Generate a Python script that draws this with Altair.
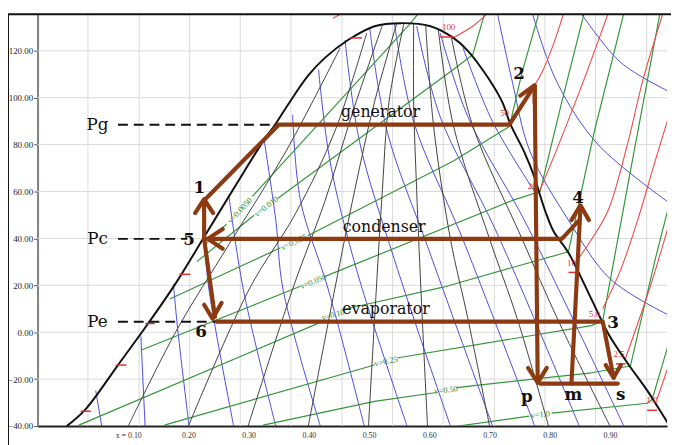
import altair as alt
import pandas as pd

# ---------------- axes ----------------
X_DOMAIN = [-0.0506, 0.9948]
Y_DOMAIN = [-40, 135.6]
Y_TICKS = [-40, -20, 0, 20, 40, 60, 80, 100, 120]
X_TICKS = [0.1, 0.2, 0.3, 0.4, 0.5, 0.6, 0.7, 0.8, 0.9]
GRID_X = [0.033, 0.118, 0.202, 0.286, 0.370, 0.455, 0.539, 0.623, 0.708, 0.792, 0.876, 0.961]

# ---------------- saturation dome ----------------
DOME = [(-0.002, -40), (0.029, -32.9), (0.083, -14.0), (0.133, 3.7), (0.178, 20.5),
        (0.226, 40.6), (0.280, 63.3), (0.324, 81.4), (0.345, 88.9), (0.365, 96.9),
        (0.399, 109.5), (0.427, 117.1), (0.465, 124.6), (0.509, 130.5), (0.553, 131.8),
        (0.602, 130.5), (0.640, 125.5), (0.664, 120.0), (0.697, 108.7), (0.721, 98.2),
        (0.735, 88.5), (0.757, 77.2), (0.775, 65.8), (0.784, 58.3), (0.795, 49.9),
        (0.807, 42.7), (0.831, 33.9), (0.869, 14.2), (0.897, -0.5), (0.929, -13.1),
        (0.962, -24.9), (0.995, -38.3), (1.008, -43.4)]

# ---------------- constant-concentration lines (thin black) ----------------
CONC_LINES = [
    [(0.100, -40), (0.182, 1.6), (0.267, 37.3), (0.362, 77.2), (0.452, 121.3)],
    [(0.200, -40), (0.301, 18.4), (0.378, 50.7), (0.443, 85.6), (0.496, 127.6)],
    [(0.299, -40), (0.373, 18.4), (0.427, 56.2), (0.473, 94.0), (0.522, 130.9)],
    [(0.399, -40), (0.443, 18.4), (0.476, 60.4), (0.509, 98.2), (0.546, 131.8)],
    [(0.499, -40), (0.512, 18.4), (0.522, 60.4), (0.533, 98.2), (0.558, 131.8)],
    [(0.597, -40), (0.586, 18.4), (0.579, 60.4), (0.574, 98.2), (0.574, 131.8)],
    [(0.700, -40), (0.664, 5.8), (0.635, 39.8), (0.607, 88.1), (0.594, 130.9)],
    [(0.798, -40), (0.746, 5.8), (0.700, 39.8), (0.640, 88.1), (0.615, 128.8)],
    [(0.900, -40), (0.815, 4.5), (0.754, 39.8), (0.672, 88.1), (0.636, 126.7)],
]

# ---------------- blue isolines ----------------
BLUE_LINES = [
    [(0.046, -24.9), (0.056, -40)],
    [(0.121, -1.8), (0.128, -40)],
    [(0.175, 20.5), (0.182, 1.6), (0.201, -40)],
    [(0.226, 39.4), (0.234, 18.4), (0.275, -40)],
    [(0.267, 58.3), (0.291, 18.4), (0.345, -40)],
    [(0.326, 81.4), (0.345, 47.8), (0.357, 18.4), (0.419, -40)],
    [(0.373, 92.7), (0.386, 56.2), (0.432, 18.4), (0.492, -40)],
    [(0.416, 112.0), (0.435, 73.0), (0.479, 26.8), (0.563, -40)],
    [(0.460, 124.6), (0.484, 81.4), (0.542, 31.0), (0.635, -40)],
    [(0.501, 129.7), (0.530, 85.6), (0.599, 35.2), (0.705, -40)],
    [(0.542, 131.8), (0.574, 89.8), (0.656, 39.4), (0.775, -40)],
    [(0.579, 130.5), (0.618, 91.9), (0.710, 43.6), (0.849, -40)],
    [(0.618, 127.6), (0.664, 91.9), (0.762, 45.7), (0.923, -40)],
    [(0.656, 121.3), (0.705, 89.8), (0.779, 58.3)],
    [(0.713, 136.0), (0.738, 106.6), (0.767, 77.2), (0.831, 47.8), (0.901, 22.6), (1.0, 7.0)],
    [(0.771, 136.0), (0.812, 106.6), (0.880, 80.1), (1.0, 54.9)],
    [(0.852, 136.0), (0.918, 115.0), (1.0, 102.4)],
]

# ---------------- green specific-volume lines (split around labels) ----------------
GREEN_LINES = [
    [(0.226, 36.9), (0.263, 46.1)],
    [(0.306, 57.9), (0.569, 131.8), (0.582, 136.0)],
    [(0.214, 30.1), (0.309, 49.9)],
    [(0.348, 57.0), (0.640, 112.0), (0.672, 118.3), (0.692, 136.0)],
    [(0.169, 14.2), (0.353, 36.0)],
    [(0.398, 41.1), (0.640, 73.0), (0.733, 87.7), (0.754, 110.8), (0.782, 136.0)],
    [(0.121, -7.7), (0.386, 19.6)],
    [(0.427, 23.8), (0.738, 56.2), (0.784, 60.0), (0.820, 98.2), (0.857, 136.0)],
    [(0.018, -39.6), (0.422, 4.5)],
    [(0.455, 9.6), (0.623, 19.2), (0.738, 27.6), (0.831, 34.3), (0.874, 85.6), (0.923, 136.0)],
    [(0.160, -39.6), (0.509, -14.0)],
    [(0.546, -11.0), (0.869, 2.8), (0.888, 4.9), (0.934, 68.8), (0.983, 136.0)],
    [(0.324, -39.6), (0.509, -29.5), (0.612, -25.7)],
    [(0.645, -23.6), (0.869, -17.3), (0.934, -14.4), (0.975, 31.0), (1.0, 56.2)],
    [(0.648, -40), (0.766, -35.8)],
    [(0.803, -34.5), (0.962, -30.3), (0.970, -28.7), (1.0, -2.6)],
]
GREEN_LABELS = [("v=0.0050", 0.285, 52.0, 313), ("v=0.010", 0.329, 53.7, 322),
                ("v=0.025", 0.375, 38.5, 335), ("v=0.050", 0.407, 21.7, 338),
                ("v=0.10", 0.440, 7.5, 345), ("v=0.25", 0.528, -12.3, 348),
                ("v=0.50", 0.628, -24.5, 353), ("v=1.0", 0.784, -35.0, 354)]

# ---------------- red isobars ----------------
RED_LINES = [
    [(0.636, 125.1), (0.672, 130.5), (0.697, 136.0)],
    [(0.738, 91.9), (0.762, 100.3), (0.787, 110.8), (0.807, 123.4), (0.823, 136.0)],
    [(0.782, 59.5), (0.815, 80.1), (0.857, 107.8), (0.897, 136.0)],
    [(0.844, 30.1), (0.869, 39.4), (0.897, 52.0), (0.929, 80.1), (0.955, 107.8), (0.988, 136.0)],
    [(0.888, 10.0), (0.918, 26.8), (0.946, 47.8), (0.975, 73.0), (1.0, 94.0)],
    [(0.926, -11.0), (0.967, 19.6), (1.0, 47.8)],
    [(0.978, -28.7), (1.0, -12.3)],
    [(0.440, 133.9), (0.455, 136.0)],
]
RED_LABELS = [("100", 0.632, 130.1), ("50", 0.725, 93.6), ("20", 0.771, 62.5),
              ("10", 0.836, 29.3), ("5.0", 0.874, 7.9), ("2.5", 0.915, -9.3), ("1.0", 0.970, -29.1)]
RED_TICKS = [(0.185, 0.203, 24.7), (0.128, 0.144, 3.7), (0.079, 0.097, -14.0),
             (0.021, 0.038, -33.7), (0.468, 0.488, 125.5), (0.618, 0.640, 125.9),
             (0.831, 0.847, 25.5), (0.910, 0.926, -13.5), (0.962, 0.978, -33.3)]

# ---------------- absorption cycle ----------------
CYCLE_PATHS = [
    [(0.226, 39.8), (0.226, 56.2)],                                   # 5 -> 1
    [(0.226, 56.2), (0.350, 88.5), (0.733, 88.5), (0.774, 104.9)],   # 1 -> generator -> 2
    [(0.775, 104.9), (0.780, -21.5)],                                # 2 -> p
    [(0.849, 47.8), (0.820, 39.8), (0.231, 39.8)],                   # condenser -> 5
    [(0.226, 39.8), (0.244, 6.6)],                                   # 5 -> 6
    [(0.247, 4.5), (0.888, 4.5), (0.906, -19.4)],                    # evaporator -> 3 -> s
    [(0.784, -21.9), (0.913, -21.9)],                                # p - m - s
    [(0.836, -21.9), (0.851, 53.2)],                                 # m -> 4
]
ARROW_HEADS = [
    [(0.211, 50.8), (0.226, 56.7), (0.241, 50.8)],
    [(0.751, 100.9), (0.775, 105.3), (0.775, 97.5)],
    [(0.764, -15.2), (0.780, -21.5), (0.795, -15.2)],
    [(0.257, 44.0), (0.232, 39.8), (0.257, 35.6)],
    [(0.226, 11.7), (0.240, 5.8), (0.255, 12.5)],
    [(0.893, -14.0), (0.906, -19.4), (0.918, -14.0)],
    [(0.836, 47.8), (0.851, 54.1), (0.865, 47.8)],
]
DASHED = [
    [(0.083, 88.5), (0.345, 88.5)],
    [(0.083, 39.8), (0.198, 39.8)],
    [(0.083, 4.5), (0.250, 4.5)],
]
LEVEL_LABELS = [("Pg", 0.049, 88.5), ("Pc", 0.049, 39.8), ("Pe", 0.049, 4.5)]
POINT_LABELS = [("1", 0.218, 61.6), ("2", 0.749, 109.9), ("3", 0.905, 4.1), ("4", 0.847, 57.4),
                ("5", 0.201, 39.4), ("6", 0.221, -0.1), ("p", 0.762, -27.8),
                ("m", 0.839, -27.0), ("s", 0.918, -27.0)]
COMPONENT_LABELS = [("generator", 0.519, 94.0), ("condenser", 0.525, 44.8),
                    ("evaporator", 0.528, 10.0)]

BROWN = "#8c3a12"
SERIF = "DejaVu Serif"

xs = alt.Scale(domain=X_DOMAIN, nice=False, zero=False)
ys = alt.Scale(domain=Y_DOMAIN, nice=False, zero=False)

AX = alt.Axis(values=X_TICKS, title=None, grid=False, tickSize=0, labelFontSize=8,
              labelFont="Liberation Serif", labelColor="#333", labelPadding=6,
              labelOverlap=False, labelFlush=False, domainColor="#222", domainWidth=2,
              labelExpr="datum.value < 0.15 ? 'x = 0.10' : format(datum.value, '.2f')")
AY = alt.Axis(values=Y_TICKS, title=None, grid=False, format=".2f", labelFont="Liberation Serif",
              labelFontSize=9, labelColor="#222", tickSize=4, tickColor="#555", labelPadding=1,
              labelOverlap=False, labelFlush=False, domainColor="#808080", domainWidth=2)


def X(field="x:Q"):
    return alt.X(field, scale=xs, axis=AX)


def Y(field="y:Q"):
    return alt.Y(field, scale=ys, axis=AY)


def lines_df(lines):
    rows = []
    for k, pts in enumerate(lines):
        for i, (x, y) in enumerate(pts):
            rows.append({"line": k, "i": i, "x": x, "y": y})
    return pd.DataFrame(rows)


def line_layer(lines, color, width, interp="linear", dash=None, cap="butt"):
    kw = dict(color=color, strokeWidth=width, interpolate=interp, clip=True, strokeCap=cap,
              strokeJoin="round")
    if dash is not None:
        kw["strokeDash"] = dash
    return alt.Chart(lines_df(lines)).mark_line(**kw).encode(
        x=X(), y=Y(), detail="line:N", order="i:Q")


def text_layer(items, color, size, weight="normal", font=SERIF, align="center"):
    df = pd.DataFrame([{"t": t, "x": x, "y": y} for t, x, y in items])
    return alt.Chart(df).mark_text(color=color, fontSize=size, fontWeight=weight, font=font,
                                   align=align, baseline="middle").encode(
        x=X(), y=Y(), text="t:N")


vgrid = alt.Chart(pd.DataFrame({"x": GRID_X})).mark_rule(color="#d9d9d9", strokeWidth=1).encode(
    x=X())
hgrid = alt.Chart(pd.DataFrame({"y": Y_TICKS[1:]})).mark_rule(color="#d9d9d9", strokeWidth=1).encode(
    y=Y())

blue = line_layer(BLUE_LINES, "#4b4bdc", 1, "catmull-rom")
green = line_layer(GREEN_LINES, "#36963a", 1.2)
red = line_layer(RED_LINES, "#ec4a4a", 1.1, "catmull-rom")
conc = line_layer(CONC_LINES, "#404040", 1, "catmull-rom")
dome = line_layer([DOME], "#111111", 2, "catmull-rom")

rt_df = pd.DataFrame([{"x": a, "x2": b, "y": y} for a, b, y in RED_TICKS])
red_ticks = alt.Chart(rt_df).mark_rule(color="#e03030", strokeWidth=1.5).encode(
    x=X(), x2="x2:Q", y=Y())

gl_df = pd.DataFrame([{"t": t, "x": x, "y": y, "a": a} for t, x, y, a in GREEN_LABELS])
green_labels = alt.Chart(gl_df).mark_text(color="#2e8b2e", fontSize=8.5, font="Liberation Serif",
                                          align="center", baseline="middle").encode(
    x=X(), y=Y(), text="t:N", angle=alt.Angle("a:Q", scale=None))

red_labels = text_layer(RED_LABELS, "#e03030", 9, font="Liberation Serif")

dashed = line_layer(DASHED, "#111111", 2, dash=[10, 6])
cycle = line_layer(CYCLE_PATHS, BROWN, 4.2, cap="round")
heads = line_layer(ARROW_HEADS, BROWN, 4.2, cap="round")

level_txt = text_layer(LEVEL_LABELS, "#111111", 17)
point_txt = text_layer(POINT_LABELS, "#111111", 17, weight="bold")
comp_txt = text_layer(COMPONENT_LABELS, "#111111", 16)

frame_df = pd.DataFrame({"a": [0]})
frame_top = alt.Chart(frame_df).mark_rule(color="#111", strokeWidth=2, clip=False).encode(
    x=alt.value(-30), x2=alt.value(645), y=alt.value(0))
frame_left = alt.Chart(frame_df).mark_rule(color="#111", strokeWidth=2, clip=False).encode(
    x=alt.value(-30), y=alt.value(0), y2=alt.value(440))

chart = alt.layer(
    vgrid, hgrid, blue, green, red, conc, dome, red_ticks, green_labels, red_labels,
    dashed, cycle, heads, level_txt, point_txt, comp_txt, frame_top, frame_left,
).properties(
    width=639, height=418,
    autosize=alt.AutoSizeParams(type="none"),
    padding={"left": 30, "top": 3, "right": 4, "bottom": 20},
    background="white",
).configure_view(stroke=None)

chart.save("out.html", embed_options={"renderer": "svg", "actions": False})
